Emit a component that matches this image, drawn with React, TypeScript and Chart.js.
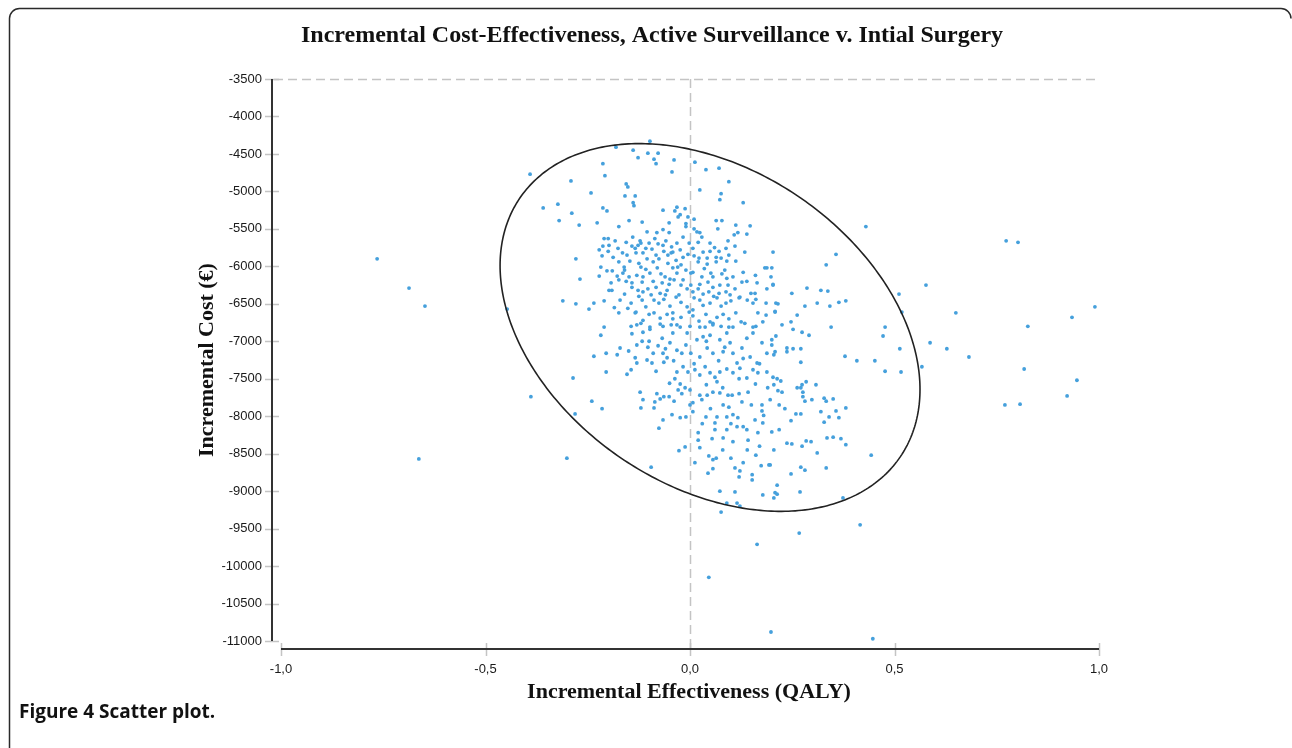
import React, { useEffect, useRef } from "react";
import { Chart, registerables } from "chart.js";

Chart.register(...registerables);

// ---- Data ----
const TITLE = "Incremental Cost-Effectiveness, Active Surveillance v. Intial Surgery";
const X_TITLE = "Incremental Effectiveness (QALY)";
const Y_TITLE = "Incremental Cost (€)";
const CAPTION = "Figure 4 Scatter plot.";

const X_TICKS = [-1, -0.5, 0, 0.5, 1];
const X_TICK_LABELS = ["-1,0", "-0,5", "0,0", "0,5", "1,0"];
const Y_TICKS = [-11000, -10500, -10000, -9500, -9000, -8500, -8000, -7500, -7000, -6500, -6000, -5500, -5000, -4500, -4000, -3500];

// [incremental QALY, incremental cost]
const POINTS_UPPER: number[][] = [
  [-0.098,-4330],[-0.181,-4410],[-0.139,-4450],[-0.103,-4490],[-0.078,-4490],[-0.127,-4550],[-0.088,-4570],[-0.039,-4580],
  [-0.083,-4630],[0.012,-4610],[-0.213,-4630],[0.071,-4690],[0.039,-4710],[-0.044,-4740],[-0.391,-4770],[-0.208,-4790],
  [-0.291,-4860],[0.095,-4870],[-0.156,-4900],[-0.152,-4940],[0.024,-4980],[-0.242,-5020],[-0.159,-5060],[-0.134,-5060],
  [0.076,-5030],[0.073,-5110],[-0.139,-5150],[-0.323,-5170],[-0.137,-5190],[0.130,-5150],[-0.359,-5220],[-0.213,-5220],
  [-0.203,-5260],[-0.066,-5250],[-0.037,-5260],[-0.032,-5210],[-0.012,-5230],[-0.289,-5290],[-0.024,-5310],[-0.029,-5340],
  [-0.005,-5340],[0.010,-5370],[-0.320,-5390],[-0.149,-5390],[-0.117,-5410],[-0.051,-5420],[-0.010,-5430],[0.064,-5390],
  [0.078,-5390],[-0.271,-5450],[-0.227,-5420],[-0.174,-5470],[-0.010,-5470],[0.068,-5500],[0.112,-5450],[0.147,-5460],
  [-0.105,-5540],[-0.081,-5550],[-0.066,-5510],[-0.051,-5550],[0.010,-5500],[0.017,-5540],[0.024,-5550],[0.117,-5550],
  [0.139,-5570],[-0.017,-5610],[0.029,-5610],[0.108,-5580],[-0.210,-5630],[-0.200,-5630],[-0.183,-5660],[-0.156,-5680],
  [-0.122,-5660],[-0.086,-5630],[-0.078,-5700],[-0.059,-5660],[-0.032,-5690],[-0.002,-5690],[0.049,-5690],[0.093,-5660],
  [-0.222,-5780],[-0.213,-5730],[-0.198,-5720],[-0.176,-5760],[-0.142,-5730],[-0.134,-5760],[-0.127,-5720],[-0.120,-5690],
  [-0.108,-5760],[-0.093,-5770],[-0.066,-5720],[-0.064,-5800],[-0.042,-5810],[-0.024,-5780],[-0.005,-5840],[0.007,-5760],
  [0.032,-5810],[0.049,-5800],[0.071,-5800],[0.076,-5890],[0.088,-5760],[0.110,-5730],[0.203,-5810],[0.134,-5810],
  [-0.215,-5860],[-0.188,-5880],[-0.154,-5850],[-0.132,-5820],[-0.115,-5820],[-0.105,-5900],[-0.083,-5850],[-0.076,-5900],
  [-0.054,-5850],[-0.046,-5820],[-0.034,-5920],[-0.017,-5880],[0.010,-5860],[0.022,-5890],[0.042,-5890],[0.064,-5880],
  [-0.279,-5900],[-0.174,-5940],[-0.161,-6010],[-0.147,-5930],[-0.125,-5960],[-0.120,-6010],[-0.090,-5940],[-0.054,-5960],
  [-0.042,-6020],[-0.022,-5980],[-0.010,-6050],[0.007,-6080],[0.020,-5940],[0.042,-5970],[0.064,-5940],[0.090,-5930],
  [0.112,-5930],[0.183,-6020],[0.188,-6020],[0.200,-6020],[-0.218,-6010],[-0.203,-6060],[-0.178,-6130],[-0.164,-6090],
  [-0.149,-6140],[-0.130,-6120],[-0.108,-6040],[-0.098,-6090],[-0.071,-6100],[-0.061,-6140],[-0.049,-6170],[-0.032,-6090],
  [-0.017,-6180],[0.002,-6090],[0.029,-6140],[0.051,-6090],[0.056,-6140],[0.078,-6100],[0.090,-6160],[0.105,-6140],
  [0.198,-6140],[-0.269,-6170],[-0.222,-6130],[-0.193,-6220],[-0.174,-6180],[-0.156,-6200],[-0.142,-6220],[-0.117,-6210],
  [-0.090,-6200],[-0.083,-6280],[-0.068,-6220],[-0.051,-6240],[-0.039,-6180],[-0.022,-6250],[0.002,-6250],[0.024,-6240],
  [0.044,-6210],[0.056,-6280],[0.073,-6250],[0.093,-6250],[0.127,-6210],[0.139,-6200],[0.164,-6220],[0.203,-6240],
  [-0.198,-6320],[-0.142,-6280],[-0.127,-6320],[-0.115,-6340],[-0.103,-6300],[-0.073,-6360],[-0.056,-6320],[-0.027,-6380],
  [-0.007,-6300],[0.007,-6340],[0.020,-6300],[0.032,-6370],[0.046,-6340],[0.071,-6360],[0.088,-6340],[0.098,-6380],
  [0.122,-6410],[0.149,-6360],[0.159,-6360],[0.188,-6300],[-0.311,-6460],[-0.279,-6500],[-0.247,-6570],[-0.235,-6490],
  [-0.210,-6460],[-0.174,-6620],[-0.144,-6490],[-0.132,-6610],[-0.117,-6450],[-0.108,-6540],[-0.095,-6380],[-0.088,-6450],
  [-0.076,-6490],[-0.064,-6440],[-0.049,-6530],[-0.034,-6410],[-0.022,-6480],[-0.007,-6540],[0.007,-6580],[0.024,-6450],
  [0.032,-6520],[0.049,-6490],[0.066,-6420],[0.076,-6530],[0.088,-6490],[0.100,-6460],[0.120,-6420],[0.154,-6490],
  [0.161,-6440],[0.186,-6490],[0.210,-6490],[-0.134,-6620],[-0.115,-6720],[-0.100,-6640],[-0.088,-6620],[-0.073,-6690],
  [-0.056,-6640],[-0.042,-6620],[-0.042,-6700],[-0.022,-6680],[-0.002,-6610],[0.007,-6660],[0.022,-6730],[0.039,-6640],
  [0.049,-6740],[0.066,-6680],[0.081,-6640],[0.095,-6700],[0.112,-6620],[0.125,-6740],[0.166,-6620],[0.186,-6650],
  [0.208,-6610],[-0.210,-6810],[-0.144,-6800],[-0.120,-6760],[-0.098,-6810],[-0.066,-6800],[-0.046,-6780],[-0.024,-6810],
  [0.000,-6800],[0.037,-6810],[0.056,-6760],[0.076,-6800],[0.095,-6810],[0.134,-6760],[0.161,-6800],[-0.447,-6570],
];

const POINTS_CORE_EXTRA: number[][] = [
  [-0.130,-6780],[-0.098,-6840],[-0.073,-6770],[-0.032,-6780],[0.024,-6810],[0.056,-6780],[0.105,-6810],[0.154,-6810],
  [0.178,-6740],[-0.171,-6450],[-0.191,-6320],[-0.160,-6370],[-0.185,-6550],[-0.152,-6560],[-0.125,-6400],[-0.060,-6380],
  [0.010,-6420],[0.058,-6400],[0.110,-6300],[0.140,-6450],[-0.190,-6060],[-0.160,-6050],[-0.115,-6140],[-0.080,-6020],
  [-0.030,-6010],[0.035,-6030],[0.085,-6050],[0.130,-6080],[0.160,-6120],[-0.200,-5800],[-0.165,-5820],[-0.100,-5690],
  [-0.045,-5740],[0.020,-5680],[0.060,-5750],[0.095,-5850],[-0.140,-5610],[-0.100,-7000],[-0.060,-7100],[-0.010,-7050],
  [0.040,-7000],[0.085,-7080],[0.130,-7230],[0.170,-7300],[-0.150,-7130],[-0.040,-7260],[0.010,-7300],[0.070,-7260],
  [0.120,-7500],[0.160,-7570],[0.190,-7620],[-0.050,-7560],[-0.020,-7700],[0.040,-7580],[0.080,-7620],[0.120,-7700],
  [0.150,-7850],[0.180,-7990],[0.050,-7900],[0.100,-8100],[0.140,-8450],[0.170,-8400],[0.080,-8450],[0.100,-8560],
  [0.030,-8100],
];

const POINTS_LOWER: number[][] = [
  [-0.218,-6920],[-0.142,-6900],[-0.115,-6880],[-0.068,-6960],[-0.049,-7020],[-0.042,-6890],[-0.007,-6890],[-0.130,-7050],
  [-0.117,-7000],[-0.103,-7080],[-0.090,-7160],[-0.078,-7060],[-0.066,-7160],[-0.056,-7220],[-0.032,-7120],[-0.020,-7160],
  [-0.235,-7200],[-0.205,-7160],[-0.178,-7180],[-0.171,-7090],[-0.134,-7220],[-0.130,-7290],[-0.105,-7250],[-0.093,-7290],
  [-0.083,-7400],[-0.064,-7280],[-0.017,-7340],[0.002,-7160],[0.017,-6980],[0.024,-7210],[0.032,-6940],[0.042,-7090],
  [0.049,-6920],[0.056,-7160],[0.073,-6980],[0.081,-7140],[0.090,-6890],[0.098,-7020],[0.105,-7160],[0.115,-7290],
  [0.127,-7090],[0.139,-6960],[0.147,-7210],[0.154,-6890],[0.164,-7290],[0.176,-7020],[0.188,-7160],[0.200,-6980],
  [0.208,-7140],[-0.205,-7410],[-0.154,-7440],[-0.144,-7380],[-0.032,-7410],[-0.005,-7410],[0.012,-7380],[0.024,-7450],
  [0.037,-7340],[0.049,-7420],[0.061,-7480],[0.066,-7540],[0.073,-7410],[0.090,-7370],[0.105,-7420],[0.122,-7360],
  [0.139,-7490],[0.154,-7380],[0.166,-7420],[0.188,-7410],[0.203,-7480],[-0.037,-7500],[-0.024,-7570],[-0.012,-7620],
  [0.000,-7650],[-0.029,-7650],[-0.286,-7490],[-0.389,-7740],[-0.240,-7800],[-0.215,-7900],[-0.281,-7970],[-0.122,-7680],
  [-0.115,-7780],[-0.120,-7890],[-0.086,-7810],[-0.081,-7700],[-0.073,-7770],[-0.064,-7740],[-0.051,-7740],[-0.088,-7890],
  [-0.039,-7800],[0.000,-7850],[0.007,-7820],[0.029,-7780],[0.024,-7720],[0.042,-7720],[0.056,-7680],[0.073,-7690],
  [0.093,-7720],[0.103,-7720],[0.127,-7810],[0.142,-7680],[0.081,-7850],[0.095,-7880],[0.105,-7980],[-0.044,-7980],
  [-0.024,-8020],[-0.010,-8010],[-0.066,-8050],[-0.076,-8160],[0.007,-7940],[0.039,-8010],[0.066,-8010],[0.090,-8010],
  [0.117,-8020],[0.130,-8140],[0.159,-8050],[0.176,-7850],[0.176,-7930],[0.196,-7780],[0.020,-8220],[0.020,-8320],
  [0.061,-8090],[0.061,-8180],[0.090,-8180],[0.115,-8140],[0.139,-8180],[0.166,-8220],[0.024,-8420],[-0.012,-8410],
  [-0.027,-8460],[0.054,-8300],[0.081,-8290],[0.105,-8340],[0.142,-8320],[0.178,-8090],[0.200,-8210],[0.205,-8450],
  [0.046,-8530],[0.064,-8560],[0.056,-8580],[0.012,-8620],[0.044,-8760],[0.056,-8700],[0.110,-8690],[0.122,-8730],
  [0.120,-8810],[0.130,-8620],[0.152,-8780],[0.152,-8850],[0.174,-8660],[0.193,-8650],[0.161,-8520],[-0.301,-8560],
  [-0.095,-8680],[0.213,-8920],[0.178,-9050],[0.208,-9020],[0.073,-9000],[0.110,-9010],[0.090,-9160],[0.115,-9160],
  [0.122,-9200],[0.076,-9280],
];

const POINTS_RIGHT: number[][] = [
  [0.430,-5470],[0.773,-5660],[0.802,-5680],[0.357,-5840],[0.333,-5980],[0.203,-6250],[0.577,-6250],[0.286,-6290],
  [0.320,-6320],[0.337,-6330],[0.249,-6360],[0.511,-6370],[0.215,-6500],[0.281,-6530],[0.311,-6490],[0.342,-6530],
  [0.364,-6480],[0.381,-6460],[0.208,-6600],[0.262,-6650],[0.518,-6610],[0.650,-6620],[0.934,-6680],[0.990,-6540],
  [0.225,-6780],[0.247,-6740],[0.252,-6840],[0.345,-6810],[0.477,-6810],[0.826,-6800],[0.274,-6880],[0.291,-6920],
  [0.210,-6930],[0.472,-6930],[0.587,-7020],[0.628,-7100],[0.682,-7210],[0.200,-7050],[0.237,-7090],[0.252,-7100],
  [0.271,-7100],[0.237,-7140],[0.205,-7180],[0.271,-7280],[0.379,-7200],[0.408,-7260],[0.452,-7260],[0.513,-7100],
  [0.477,-7400],[0.516,-7410],[0.567,-7340],[0.817,-7370],[0.946,-7520],[0.922,-7730],[0.770,-7850],[0.807,-7840],
  [0.213,-7500],[0.222,-7530],[0.205,-7580],[0.284,-7540],[0.274,-7580],[0.308,-7580],[0.262,-7620],[0.271,-7620],
  [0.276,-7680],[0.215,-7660],[0.225,-7680],[0.276,-7740],[0.281,-7800],[0.298,-7780],[0.328,-7760],[0.333,-7800],
  [0.350,-7770],[0.218,-7850],[0.232,-7900],[0.320,-7940],[0.259,-7970],[0.271,-7970],[0.357,-7930],[0.381,-7890],
  [0.247,-8060],[0.328,-8080],[0.340,-8010],[0.364,-8020],[0.218,-8180],[0.237,-8360],[0.249,-8370],[0.274,-8400],
  [0.284,-8330],[0.296,-8340],[0.335,-8290],[0.350,-8280],[0.369,-8300],[0.381,-8380],[0.311,-8490],[0.443,-8520],
  [0.196,-8650],[0.271,-8680],[0.281,-8720],[0.333,-8690],[0.247,-8770],[0.213,-9040],[0.205,-9090],[0.269,-9010],
  [0.374,-9090],
];

const POINTS_OUTLYING: number[][] = [
  [-0.765,-5900],[-0.687,-6290],[-0.648,-6530],[-0.663,-8570],
  [0.416,-9450],[0.267,-9560],[0.164,-9710],[0.046,-10150],[0.198,-10880],[0.447,-10970],
];

// Confidence ellipse, defined in data units: centre, end of major semi-axis, end of minor semi-axis
const ELLIPSE_CENTER = [0.049, -6816];
const ELLIPSE_MAJOR_END = [0.514, -8543];
const ELLIPSE_MINOR_END = [-0.1685, -8559];

// ---- Styles ----
const POINT_COLOR = "#45a0dc";
const AXIS_COLOR = "#333333";
const TICK_COLOR = "#c4c4c4";
const DASH_COLOR = "#c4c4c4";

const decorPlugin = {
  id: "decor",
  beforeDatasetsDraw(chart: any) {
    const { ctx, chartArea, scales } = chart;
    const xs = scales.x, ys = scales.y;
    const axisX = chartArea.left - 9;
    const axisY = chartArea.bottom + 8;
    ctx.save();
    ctx.strokeStyle = DASH_COLOR;
    ctx.lineWidth = 1.5;
    ctx.setLineDash([9, 5]);
    ctx.beginPath();
    const yTop = Math.round(ys.getPixelForValue(-3500)) + 0.5;
    ctx.moveTo(axisX + 2, yTop);
    ctx.lineTo(chartArea.right, yTop);
    const x0 = Math.round(xs.getPixelForValue(0)) + 0.5;
    ctx.moveTo(x0, chartArea.top);
    ctx.lineTo(x0, axisY - 1);
    ctx.stroke();
    ctx.setLineDash([]);
    ctx.strokeStyle = TICK_COLOR;
    ctx.lineWidth = 1.5;
    ctx.beginPath();
    Y_TICKS.forEach((v) => {
      const py = Math.round(ys.getPixelForValue(v)) + 0.5;
      ctx.moveTo(axisX - 7, py);
      ctx.lineTo(axisX + 7, py);
    });
    X_TICKS.forEach((v) => {
      const px = Math.round(xs.getPixelForValue(v)) + 0.5;
      ctx.moveTo(px, axisY - 6);
      ctx.lineTo(px, axisY + 7);
    });
    ctx.stroke();
    ctx.strokeStyle = AXIS_COLOR;
    ctx.lineWidth = 2;
    ctx.beginPath();
    ctx.moveTo(axisX, chartArea.top);
    ctx.lineTo(axisX, chartArea.bottom);
    ctx.moveTo(xs.getPixelForValue(-1), axisY);
    ctx.lineTo(xs.getPixelForValue(1), axisY);
    ctx.stroke();
    ctx.restore();
  },
  afterDatasetsDraw(chart: any) {
    const { ctx, scales } = chart;
    const xs = scales.x, ys = scales.y;
    const toPx = (p: number[]) => ({ x: xs.getPixelForValue(p[0]), y: ys.getPixelForValue(p[1]) });
    const c = toPx(ELLIPSE_CENTER), a = toPx(ELLIPSE_MAJOR_END), b = toPx(ELLIPSE_MINOR_END);
    const ux = a.x - c.x, uy = a.y - c.y, vx = b.x - c.x, vy = b.y - c.y;
    ctx.save();
    ctx.strokeStyle = "#222222";
    ctx.lineWidth = 1.6;
    ctx.beginPath();
    for (let i = 0; i <= 360; i++) {
      const t = (i * Math.PI) / 180;
      const px = c.x + ux * Math.cos(t) + vx * Math.sin(t);
      const py = c.y + uy * Math.cos(t) + vy * Math.sin(t);
      if (i === 0) ctx.moveTo(px, py); else ctx.lineTo(px, py);
    }
    ctx.closePath();
    ctx.stroke();
    ctx.restore();
  },
  afterDraw(chart: any) {
    const { ctx, chartArea } = chart;
    ctx.save();
    ctx.strokeStyle = "#2a2a2a";
    ctx.lineWidth = 1.5;
    ctx.beginPath();
    ctx.moveTo(9.5, 748);
    ctx.lineTo(9.5, 19);
    ctx.arcTo(9.5, 8.5, 20, 8.5, 10);
    ctx.lineTo(1281, 8.5);
    ctx.arcTo(1291, 8.5, 1291, 19, 10);
    ctx.stroke();
    ctx.fillStyle = "#111111";
    ctx.textAlign = "center";
    ctx.textBaseline = "middle";
    ctx.font = "bold 24px 'Liberation Serif', 'Times New Roman', serif";
    ctx.fillText(TITLE, 652, 36);
    ctx.font = "bold 22px 'Liberation Serif', 'Times New Roman', serif";
    ctx.fillText(X_TITLE, (chartArea.left + chartArea.right) / 2 - 1, 692);
    ctx.save();
    ctx.translate(207, 360);
    ctx.rotate(-Math.PI / 2);
    ctx.fillText(Y_TITLE, 0, 0);
    ctx.restore();
    ctx.textAlign = "left";
    ctx.font = "bold 19px 'Open Sans', 'Noto Sans', sans-serif";
    ctx.fillText(CAPTION, 19, 713);
    ctx.restore();
  },
};

export default function App() {
  const canvasRef = useRef<HTMLCanvasElement | null>(null);

  useEffect(() => {
    document.body.style.margin = "0";
    const canvas = canvasRef.current;
    if (!canvas) return;
    const toXY = (arr: number[][]) => arr.map((p) => ({ x: p[0], y: p[1] }));
    const points = [
      ...toXY(POINTS_UPPER),
      ...toXY(POINTS_CORE_EXTRA),
      ...toXY(POINTS_LOWER),
      ...toXY(POINTS_RIGHT),
      ...toXY(POINTS_OUTLYING),
    ];
    const tickFont = { family: "'Liberation Sans', Arial, sans-serif", size: 13 };
    const chart = new Chart(canvas, {
      type: "scatter",
      data: {
        datasets: [
          {
            label: "Simulations",
            data: points,
            backgroundColor: POINT_COLOR,
            borderWidth: 0,
            pointRadius: 1.9,
            pointHoverRadius: 1.9,
          },
        ],
      },
      options: {
        responsive: false,
        animation: false,
        devicePixelRatio: 1,
        layout: { padding: { top: 79, right: 193, left: 0, bottom: 0 } },
        plugins: {
          legend: { display: false },
          tooltip: { enabled: false },
          title: { display: false },
        },
        scales: {
          x: {
            type: "linear",
            min: -1,
            max: 1,
            afterBuildTicks: (s: any) => {
              s.ticks = X_TICKS.map((v) => ({ value: v }));
            },
            afterFit: (s: any) => {
              s.height = 107;
            },
            grid: { display: false, drawTicks: false },
            border: { display: false },
            ticks: {
              autoSkip: false,
              maxRotation: 0,
              padding: 21,
              color: "#1a1a1a",
              font: tickFont,
              callback: (_v: any, i: number) => X_TICK_LABELS[i],
            },
          },
          y: {
            type: "linear",
            min: -11000,
            max: -3500,
            afterBuildTicks: (s: any) => {
              s.ticks = Y_TICKS.map((v) => ({ value: v }));
            },
            afterFit: (s: any) => {
              s.width = 281;
            },
            grid: { display: false, drawTicks: false },
            border: { display: false },
            ticks: {
              autoSkip: false,
              padding: 19,
              color: "#1a1a1a",
              font: tickFont,
              callback: (v: any) => String(v),
            },
          },
        },
      },
      plugins: [decorPlugin],
    });
    return () => chart.destroy();
  }, []);

  return (
    <div style={{ width: 1292, height: 748, background: "#ffffff" }}>
      <canvas ref={canvasRef} width={1292} height={748} style={{ display: "block" }} />
    </div>
  );
}
